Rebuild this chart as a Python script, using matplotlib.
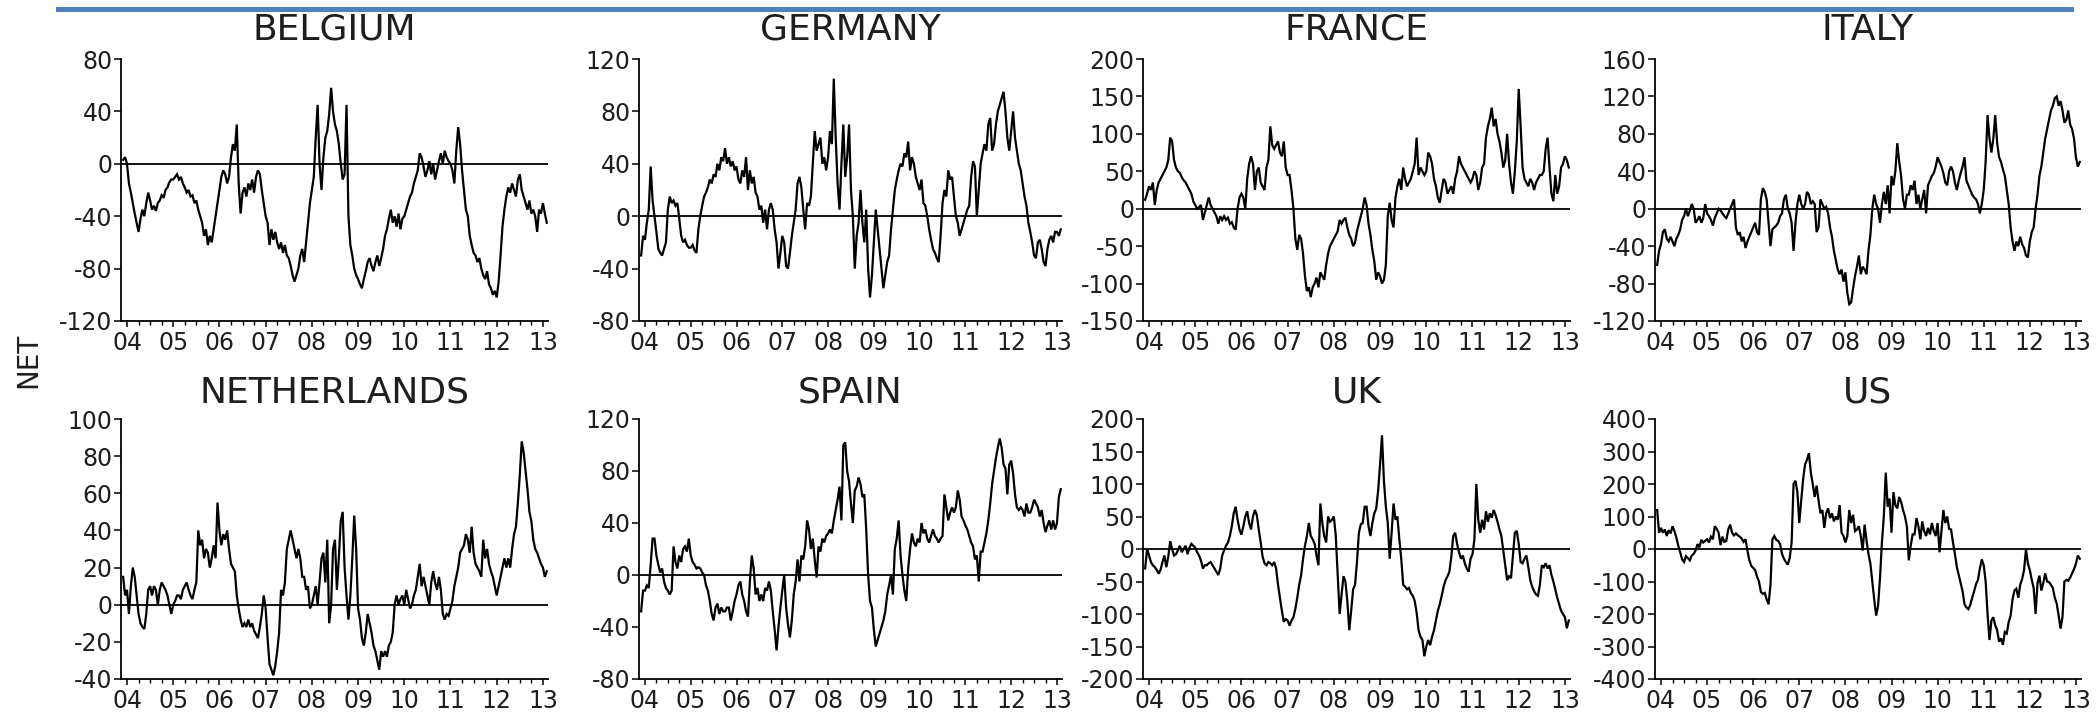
import numpy as np
import matplotlib
matplotlib.use("Agg")
import matplotlib.pyplot as plt
from matplotlib.lines import Line2D
from matplotlib.ticker import FixedLocator

plt.rcParams["font.family"] = ["DejaVu Sans"]
plt.rcParams["axes.unicode_minus"] = False

# Net positions, semi-monthly readings starting December 2003
belgium = [
    3, 5,
    0, -15, -22, -30, -38, -45, -52, -42, -35, -40, -30, -22, -28, -35, -32, -36, -30, -28, -24, -26, -20, -18, -14, -12,
    -12, -10, -8, -12, -10, -15, -18, -22, -20, -25, -24, -30, -28, -35, -40, -45, -55, -50, -62, -55, -60, -50, -40, -30,
    -20, -10, -5, -8, -15, -10, 5, 15, 10, 30, -15, -38, -22, -18, -25, -15, -20, -12, -22, -10, -5, -8, -20, -30,
    -40, -45, -62, -50, -58, -52, -60, -65, -60, -68, -62, -70, -72, -78, -85, -90, -85, -80, -70, -65, -75, -60, -45, -30,
    -20, -10, 20, 45, 0, -20, 5, 20, 25, 38, 58, 40, 30, 25, 15, 0, -12, -8, 45, -40, -62, -70, -80, -85,
    -88, -92, -95, -88, -82, -75, -72, -78, -82, -75, -70, -78, -72, -65, -55, -50, -42, -35, -45, -40, -48, -38, -50, -42,
    -40, -35, -30, -25, -22, -15, -10, -5, 8, 5, -2, -10, -5, 2, -8, 0, -12, -5, 2, 8, 0, 10, 5, 2,
    0, -5, -15, 10, 28, 15, -5, -20, -35, -40, -55, -62, -68, -70, -75, -72, -80, -85, -88, -82, -92, -95, -100, -97,
    -102, -90, -70, -48, -35, -25, -18, -22, -15, -20, -25, -12, -8, -20, -25, -30, -35, -28, -38, -35, -40, -52, -35, -38,
    -30, -38, -45,
]

germany = [
    -30, -15,
    -18, -5, 5, 38, 12, 0, -12, -25, -28, -30, -25, -20, 5, 15, 10, 12, 8, 10, -2, -15, -20, -18, -22, -24,
    -24, -22, -26, -28, -10, 0, 8, 15, 18, 22, 28, 25, 32, 30, 40, 35, 45, 42, 52, 40, 45, 38, 42, 35,
    38, 28, 25, 35, 30, 45, 20, 35, 25, 30, 18, 15, 5, 8, -5, 5, -10, 5, 10, 5, -10, -20, -40, -28,
    -15, -20, -38, -40, -28, -15, -5, 5, 25, 30, 22, 5, -10, 10, 8, 15, 40, 65, 50, 55, 60, 40, 45, 35,
    45, 65, 55, 105, 60, 25, 5, 40, 70, 30, 45, 70, 20, 0, -40, -15, -5, 20, -5, -20, 5, -40, -62, -45,
    -20, 5, -10, -25, -40, -55, -45, -35, -30, -10, 5, 20, 28, 35, 40, 38, 48, 45, 57, 35, 45, 40, 30, 25,
    20, 28, 10, 8, 0, -10, -18, -25, -28, -32, -35, -15, 10, 20, 15, 35, 28, 30, 15, 0, -5, -15, -10, -5,
    0, 5, 8, 30, 42, 38, 0, 20, 40, 48, 55, 50, 70, 75, 50, 55, 70, 80, 85, 90, 95, 80, 60, 50,
    65, 80, 60, 50, 40, 35, 25, 15, 8, -5, -12, -20, -30, -32, -20, -18, -25, -35, -38, -25, -18, -15, -20, -12,
    -12, -15, -10,
]

france = [
    12, 20,
    30, 25, 35, 5, 25, 35, 40, 45, 50, 55, 65, 95, 90, 65, 55, 50, 48, 42, 38, 35, 30, 25, 20, 10,
    5, 0, 2, 5, -15, -5, 5, 15, 5, 0, -5, -10, -20, -10, -15, -10, -15, -12, -20, -18, -25, -28, 0, 15,
    20, 15, 0, 40, 60, 70, 60, 25, 50, 55, 35, 30, 25, 55, 65, 110, 85, 80, 85, 90, 75, 70, 90, 55,
    45, 45, 25, 0, -40, -55, -35, -40, -60, -90, -110, -105, -118, -105, -100, -92, -105, -85, -90, -95, -75, -60, -50, -45,
    -40, -35, -30, -15, -20, -15, -12, -25, -35, -40, -50, -45, -30, -20, -10, 0, 15, 5, -20, -35, -55, -70, -95, -85,
    -90, -100, -95, -75, -10, 8, -15, -25, 15, 30, 40, 25, 55, 40, 30, 35, 40, 50, 60, 95, 45, 55, 50, 45,
    50, 75, 70, 60, 40, 30, 15, 8, 25, 40, 35, 20, 25, 30, 20, 40, 50, 70, 60, 55, 50, 45, 40, 35,
    40, 50, 45, 25, 35, 55, 60, 95, 110, 120, 135, 110, 120, 100, 90, 75, 55, 65, 100, 60, 35, 20, 50, 90,
    160, 110, 55, 40, 35, 30, 40, 35, 25, 35, 40, 45, 45, 50, 80, 95, 55, 20, 10, 45, 20, 30, 55, 60,
    70, 65, 55,
]

italy = [
    -60, -45,
    -38, -25, -22, -32, -35, -30, -35, -40, -32, -28, -22, -12, -8, 0, -8, -2, 5, 0, -15, -12, -8, -15, -10, 5,
    -5, -8, -12, -18, -10, -5, 0, -2, -5, -8, -10, -5, 0, 5, 10, -20, -28, -25, -35, -30, -42, -35, -30, -25,
    -20, -15, -25, -28, 10, 22, 18, 10, -15, -40, -22, -20, -18, -15, -8, -5, 10, 15, 0, -5, -15, -45, -15, 5,
    15, 5, 0, 5, 18, 15, 5, 8, 5, -25, -20, 10, 5, 0, 2, -5, -20, -30, -45, -55, -65, -70, -65, -78,
    -68, -90, -102, -100, -85, -72, -62, -50, -70, -62, -65, -70, -45, -28, 0, 15, 5, 0, -15, 5, 18, 5, 25, -5,
    35, 25, 40, 70, 50, 35, 10, 0, 15, 15, 25, 20, 30, 5, 15, 0, 10, 20, -5, 25, 30, 35, 38, 45,
    55, 50, 45, 38, 28, 25, 40, 45, 40, 28, 20, 30, 38, 45, 55, 30, 25, 20, 15, 12, 10, 5, -5, 5,
    20, 50, 100, 75, 60, 75, 100, 70, 55, 50, 42, 35, 20, 5, -20, -35, -45, -35, -40, -30, -38, -42, -50, -52,
    -35, -25, -20, 0, 15, 35, 45, 60, 75, 85, 95, 105, 110, 118, 120, 110, 115, 105, 92, 95, 105, 90, 85, 75,
    55, 45, 50,
]

netherlands = [
    15, 5,
    8, -5, 10, 20, 15, 5, -5, -10, -12, -13, -5, 8, 10, 5, 10, 8, 0, 8, 12, 10, 8, 5, 0, -5,
    0, 2, 5, 5, 3, 8, 10, 12, 8, 5, 3, 8, 12, 40, 32, 35, 25, 30, 28, 20, 25, 32, 25, 55,
    40, 32, 38, 35, 40, 30, 22, 20, 18, 5, -2, -8, -12, -10, -12, -8, -12, -10, -14, -16, -18, -12, -5, 5,
    -2, -18, -32, -35, -38, -33, -25, -15, 8, 5, 12, 30, 35, 40, 35, 30, 25, 30, 25, 15, 15, 8, 10, -2,
    0, 5, 10, 0, 12, 25, 28, 12, 35, -10, 0, 30, 35, 8, 25, 45, 50, 20, 5, -8, 5, 25, 48, 30,
    -2, -8, -18, -22, -15, -5, -10, -15, -22, -25, -30, -35, -25, -28, -25, -28, -22, -20, -15, 0, 5, 0, 3, 5,
    0, 8, 3, -2, 0, 5, 8, 15, 22, 10, 15, 10, 5, 0, 12, 18, 12, 8, 15, 8, -5, -8, -5, -6,
    -2, 2, 10, 15, 20, 28, 30, 32, 38, 35, 28, 42, 28, 22, 20, 18, 15, 35, 25, 30, 22, 18, 15, 10,
    5, 10, 15, 20, 25, 20, 25, 20, 30, 38, 42, 55, 70, 88, 82, 72, 62, 50, 45, 35, 30, 28, 25, 22,
    20, 15, 18,
]

spain = [
    -28, -12,
    -12, -8, -10, 8, 28, 28, 15, 8, 2, 5, -5, -10, -12, -15, -12, 22, 10, 5, 15, 10, 20, 22, 18, 28,
    15, 10, 8, 5, 6, 5, 2, 0, -8, -12, -20, -30, -35, -25, -22, -30, -25, -28, -28, -25, -25, -35, -28, -20,
    -15, -8, -5, -15, -20, -28, -32, -5, 15, 5, -15, -10, -20, -15, -20, -10, -12, -5, -12, -28, -42, -58, -40, -25,
    -12, 0, -25, -38, -48, -35, -15, -5, 12, -5, 15, 12, 22, 42, 35, 20, 28, 12, -2, 22, 18, 28, 25, 30,
    32, 35, 32, 42, 50, 58, 68, 42, 100, 102, 80, 72, 55, 40, 65, 68, 75, 70, 60, 62, 35, 0, -20, -25,
    -42, -55, -50, -45, -40, -35, -28, -15, -8, 0, -15, 20, 28, 42, 15, 0, -12, -20, 5, 20, 32, 25, 22, 28,
    25, 40, 32, 35, 28, 25, 30, 35, 30, 28, 25, 28, 30, 62, 52, 42, 48, 52, 48, 52, 65, 58, 45, 42,
    38, 35, 30, 25, 22, 12, 15, -5, 18, 18, 25, 32, 42, 55, 70, 80, 90, 98, 105, 98, 85, 82, 62, 85,
    88, 78, 62, 52, 50, 52, 50, 45, 55, 48, 48, 52, 58, 55, 52, 45, 50, 40, 33, 38, 42, 35, 42, 35,
    40, 60, 66,
]

uk = [
    -30, 0,
    -10, -20, -25, -28, -32, -38, -32, -20, -10, -28, -12, 12, 0, -10, -8, -2, 5, -5, 0, 5, -8, 2, 8, 5,
    2, -5, -10, -18, -30, -25, -25, -22, -20, -25, -30, -35, -40, -30, -10, -2, 5, 10, 20, 35, 55, 65, 45, 30,
    22, 35, 50, 58, 40, 30, 50, 60, 52, 30, 10, -12, -22, -25, -20, -22, -25, -20, -30, -55, -75, -95, -112, -108,
    -110, -118, -110, -105, -92, -75, -55, -40, -15, 5, 20, 40, 20, 15, 8, -10, -25, 70, 40, 20, 10, 50, 42, 45,
    50, 20, -40, -100, -70, -42, -50, -80, -125, -95, -62, -55, -20, 25, 38, 40, 65, 65, 35, 20, 40, 55, 62, 90,
    130, 175, 105, 65, 40, -15, 25, 70, 45, 50, 15, -15, -55, -58, -62, -60, -68, -72, -80, -98, -125, -135, -140, -165,
    -150, -140, -148, -135, -125, -110, -95, -85, -72, -58, -48, -42, -35, -12, 20, 25, 8, -5, -15, -10, -22, -30, -35, -15,
    -8, 15, 100, 45, 25, 45, 30, 58, 42, 55, 48, 60, 52, 42, 30, 20, -2, -25, -48, -42, -45, -10, 25, 28,
    8, -20, -22, -15, -10, -28, -48, -58, -65, -70, -72, -55, -25, -28, -22, -30, -25, -40, -50, -62, -75, -85, -95, -100,
    -105, -122, -110,
]

us = [
    120, 50,
    65, 50, 60, 40, 58, 48, 70, 55, 35, 10, -10, -32, -40, -22, -28, -35, -20, -15, -5, 15, 5, 28, 20, 25,
    30, 20, 38, 30, 70, 62, 50, 12, 38, 22, 25, 60, 75, 50, 42, 48, 42, 38, 32, 22, 30, -5, -35, -52,
    -58, -65, -85, -100, -132, -138, -135, -155, -170, -110, 30, 40, 28, 25, 15, -15, -30, -40, -48, -28, 20, 200, 210, 175,
    80, 150, 215, 260, 275, 295, 235, 200, 160, 195, 150, 110, 120, 65, 110, 125, 95, 110, 85, 100, 90, 135, 50, 40,
    20, 40, 120, 80, 105, 55, 60, 70, 40, -5, 75, 25, -15, -45, -100, -155, -205, -175, -90, 20, 100, 235, 130, 155,
    50, 175, 135, 125, 160, 145, 120, 100, 70, -35, 10, 45, 45, 95, 70, 30, 85, 55, 40, 65, 45, 80, 55, 40,
    80, -10, 55, 120, 80, 100, 62, 60, 20, -15, -55, -80, -105, -130, -170, -180, -185, -172, -150, -130, -108, -95, -60, -32,
    -50, -100, -200, -280, -220, -210, -235, -250, -285, -275, -295, -255, -260, -225, -205, -155, -128, -122, -150, -110, -92, -65, 0, -45,
    -65, -95, -120, -200, -105, -82, -128, -105, -75, -100, -102, -110, -120, -150, -168, -205, -245, -210, -100, -95, -98, -88, -75, -62,
    -45, -20, -30,
]

years = list(range(2004, 2014))
year_labels = ["04", "05", "06", "07", "08", "09", "10", "11", "12", "13"]

panels = [
    ("BELGIUM", belgium, (-120, 80), 40),
    ("GERMANY", germany, (-80, 120), 40),
    ("FRANCE", france, (-150, 200), 50),
    ("ITALY", italy, (-120, 160), 40),
    ("NETHERLANDS", netherlands, (-40, 100), 20),
    ("SPAIN", spain, (-80, 120), 40),
    ("UK", uk, (-200, 200), 50),
    ("US", us, (-400, 400), 100),
]

W, H = 2097, 718
fig = plt.figure(figsize=(W / 100, H / 100), dpi=100)

cols = [(121, 548), (639, 1062), (1143, 1570), (1655, 2081)]
rows = [(59, 321), (419, 679)]
title_y = [30, 393]

start = 2003 + 11 / 12
text_color = "#1e1e1e"

for i, (name, vals, (lo, hi), step) in enumerate(panels):
    r, c = divmod(i, 4)
    left, right = cols[c]
    top, bottom = rows[r]
    ax = fig.add_axes([left / W, 1 - bottom / H, (right - left) / W, (bottom - top) / H])
    x = start + np.arange(len(vals)) / 24.0
    ax.plot(x, vals, color="black", lw=1.6, solid_joinstyle="miter")
    ax.axhline(0, color="black", lw=1.3)
    ax.set_xlim(2003.87, 2013.11)
    ax.set_ylim(lo, hi)
    yt = np.arange(lo, hi + step, step)
    ax.set_yticks(yt)
    ax.set_yticklabels([str(int(v)) for v in yt])
    ax.set_xticks(years)
    ax.set_xticklabels(year_labels)
    ax.xaxis.set_minor_locator(FixedLocator(np.arange(2004.0, 2013.2, 0.25)))
    for s in ("top", "right"):
        ax.spines[s].set_visible(False)
    for s in ("left", "bottom"):
        ax.spines[s].set_linewidth(1.3)
    ax.tick_params(axis="y", direction="out", length=5, width=1.1, pad=1,
                   labelsize=17, labelcolor=text_color)
    ax.tick_params(axis="x", which="major", direction="out", length=4.5, width=1.1, pad=3,
                   labelsize=17, labelcolor=text_color)
    ax.tick_params(axis="x", which="minor", direction="out", length=3, width=1.0)
    ax.set_facecolor("none")
    fig.text((left + right) / 2 / W, 1 - title_y[r] / H, name, ha="center", va="center",
             fontsize=26, color=text_color)

fig.text(28 / W, 1 - 360 / H, "NET", rotation=90, ha="center", va="center",
         fontsize=20, color=text_color)

fig.add_artist(Line2D([58 / W, 2071 / W], [1 - 9 / H, 1 - 9 / H], color="#4f81bd", lw=3.6))

fig.savefig("out.png", dpi=100, facecolor="white")
